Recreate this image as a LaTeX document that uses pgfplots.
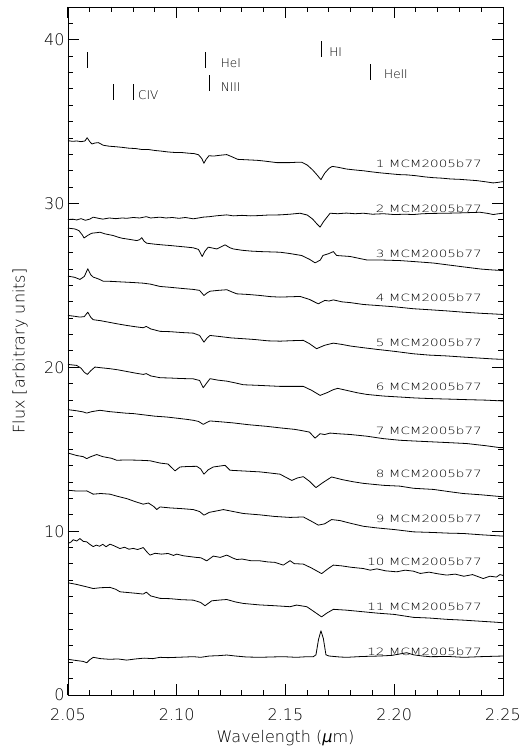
\documentclass[border=0pt]{standalone}
\usepackage{fontspec}
\setmainfont{DejaVu Sans}[UprightFont=* ExtraLight]
\newfontfamily\labfont{DejaVu Sans}[UprightFont=* ExtraLight, FakeStretch=1.35]
\usepackage{pgfplots}
\pgfplotsset{compat=1.18}
\newcommand{\lab}[1]{{\labfont\fontsize{10}{12}\selectfont #1}}
\newcommand{\lin}[1]{{\fontsize{12}{14}\selectfont #1}}
\pgfplotsset{
 full/.style={
  scale only axis,
  xmin=2.05, xmax=2.25, ymin=0, ymax=42,
  xtick={2.05,2.10,2.15,2.20,2.25},
  ytick={0,10,20,30,40},
  minor x tick num=4, minor y tick num=9,
  tick align=inside, tick pos=both,
  major tick length=11pt, minor tick length=5pt,
  /pgf/number format/assume math mode=true,
  x tick label style={/pgf/number format/.cd, fixed, fixed zerofill, precision=2, /tikz/.cd, font=\fontsize{16}{18}\selectfont, yshift=-10pt},
  y tick label style={font=\fontsize{16}{18}\selectfont},
  cycle list={{black, mark=none, solid}},
  no markers,
  every axis plot/.append style={black, line width=0.8pt, line join=round},
 },
 sty/.style={axis line style={line width=0.9pt, black}, tick style={line width=1pt, black}},
 lbl/.style={xlabel={Wavelength (\textit{μ}m)}, ylabel={Flux [arbitrary units]},
  xlabel style={at={(axis description cs:0.5,-0.0625)}, anchor=center, font=\fontsize{16}{18}\selectfont},
  ylabel style={at={(axis description cs:-0.1103,0.5)}, anchor=center, font=\fontsize{16}{18}\selectfont}},
 tk/.style={black, line width=1pt},
}
\begin{document}
\begin{tikzpicture}
\begin{axis}[at={(0,0)}, anchor=south west, width=435pt, height=688pt, full, sty, lbl]
% axis ticks (drawn as short segments)
\addplot[tk, quiver={u=0,v=0.67}] coordinates {(2.05,0) (2.10,0) (2.15,0) (2.20,0) (2.25,0)};
\addplot[tk, quiver={u=0,v=-0.67}] coordinates {(2.05,42) (2.10,42) (2.15,42) (2.20,42) (2.25,42)};
\addplot[tk, quiver={u=0,v=0.305}] coordinates {(2.06,0) (2.07,0) (2.08,0) (2.09,0) (2.11,0) (2.12,0) (2.13,0) (2.14,0) (2.16,0) (2.17,0) (2.18,0) (2.19,0) (2.21,0) (2.22,0) (2.23,0) (2.24,0)};
\addplot[tk, quiver={u=0,v=-0.305}] coordinates {(2.06,42) (2.07,42) (2.08,42) (2.09,42) (2.11,42) (2.12,42) (2.13,42) (2.14,42) (2.16,42) (2.17,42) (2.18,42) (2.19,42) (2.21,42) (2.22,42) (2.23,42) (2.24,42)};
\addplot[tk, quiver={u=0.00506,v=0}] coordinates {(2.05,0) (2.05,10) (2.05,20) (2.05,30) (2.05,40)};
\addplot[tk, quiver={u=-0.00506,v=0}] coordinates {(2.25,0) (2.25,10) (2.25,20) (2.25,30) (2.25,40)};
\addplot[tk, quiver={u=0.0023,v=0}] coordinates {(2.05,1) (2.05,2) (2.05,3) (2.05,4) (2.05,5) (2.05,6) (2.05,7) (2.05,8) (2.05,9) (2.05,11) (2.05,12) (2.05,13) (2.05,14) (2.05,15) (2.05,16) (2.05,17) (2.05,18) (2.05,19) (2.05,21) (2.05,22) (2.05,23) (2.05,24) (2.05,25) (2.05,26) (2.05,27) (2.05,28) (2.05,29) (2.05,31) (2.05,32) (2.05,33) (2.05,34) (2.05,35) (2.05,36) (2.05,37) (2.05,38) (2.05,39) (2.05,41)};
\addplot[tk, quiver={u=-0.0023,v=0}] coordinates {(2.25,1) (2.25,2) (2.25,3) (2.25,4) (2.25,5) (2.25,6) (2.25,7) (2.25,8) (2.25,9) (2.25,11) (2.25,12) (2.25,13) (2.25,14) (2.25,15) (2.25,16) (2.25,17) (2.25,18) (2.25,19) (2.25,21) (2.25,22) (2.25,23) (2.25,24) (2.25,25) (2.25,26) (2.25,27) (2.25,28) (2.25,29) (2.25,31) (2.25,32) (2.25,33) (2.25,34) (2.25,35) (2.25,36) (2.25,37) (2.25,38) (2.25,39) (2.25,41)};
% spectrum 1
\addplot coordinates {(2.0500,33.84) (2.0520,33.80) (2.0540,33.82) (2.0560,33.78) (2.0578,33.82) (2.0588,34.02) (2.0600,33.78) (2.0610,33.64) (2.0625,33.70) (2.0640,33.72) (2.0662,33.56) (2.0690,33.50) (2.0720,33.47) (2.0750,33.43) (2.0780,33.38) (2.0810,33.36) (2.0840,33.30) (2.0870,33.30) (2.0900,33.24) (2.0930,33.20) (2.0960,33.15) (2.0990,33.12) (2.1020,33.12) (2.1050,33.08) (2.1080,33.05) (2.1100,32.98) (2.1115,32.75) (2.1125,32.46) (2.1135,32.70) (2.1148,32.92) (2.1170,32.90) (2.1200,32.95) (2.1230,32.99) (2.1255,32.85) (2.1280,32.70) (2.1310,32.68) (2.1340,32.66) (2.1370,32.64) (2.1400,32.60) (2.1430,32.55) (2.1460,32.50) (2.1490,32.50) (2.1520,32.50) (2.1550,32.52) (2.1575,32.52) (2.1600,32.35) (2.1625,32.05) (2.1645,31.75) (2.1663,31.46) (2.1680,31.85) (2.1700,32.15) (2.1715,32.27) (2.1740,32.22) (2.1780,32.11) (2.1820,32.05) (2.1860,32.00) (2.1900,31.93) (2.1940,31.87) (2.1980,31.82) (2.2020,31.77) (2.2060,31.75) (2.2100,31.70) (2.2140,31.63) (2.2180,31.58) (2.2220,31.55) (2.2260,31.50) (2.2300,31.48) (2.2340,31.44) (2.2380,31.40) (2.2420,31.33) (2.2455,31.26) (2.2480,31.30) (2.2500,31.34)};
% spectrum 2
\addplot coordinates {(2.0500,29.02) (2.0520,29.05) (2.0540,29.00) (2.0560,29.08) (2.0580,28.98) (2.0600,29.05) (2.0616,29.17) (2.0640,29.10) (2.0660,29.05) (2.0690,29.12) (2.0720,29.08) (2.0750,29.12) (2.0770,29.10) (2.0800,29.15) (2.0830,29.12) (2.0860,29.20) (2.0880,29.12) (2.0923,29.17) (2.0950,29.12) (2.0980,29.15) (2.1010,29.10) (2.1040,29.15) (2.1076,29.07) (2.1100,29.12) (2.1121,29.17) (2.1150,29.20) (2.1180,29.25) (2.1230,29.31) (2.1260,29.25) (2.1300,29.28) (2.1340,29.25) (2.1383,29.27) (2.1420,29.30) (2.1475,29.31) (2.1520,29.35) (2.1567,29.41) (2.1600,29.30) (2.1625,29.05) (2.1645,28.75) (2.1659,28.56) (2.1675,28.90) (2.1705,29.41) (2.1740,29.38) (2.1780,29.42) (2.1820,29.38) (2.1858,29.41) (2.1900,29.35) (2.1950,29.38) (2.2000,29.33) (2.2050,29.35) (2.2088,29.33) (2.2130,29.38) (2.2180,29.40) (2.2241,29.41) (2.2300,29.43) (2.2350,29.45) (2.2394,29.47) (2.2430,29.40) (2.2455,29.33) (2.2480,29.38) (2.2500,29.41)};
% spectrum 3
\addplot coordinates {(2.0500,28.50) (2.0532,28.45) (2.0550,28.35) (2.0565,28.10) (2.0574,27.90) (2.0590,28.05) (2.0609,28.19) (2.0630,28.22) (2.0647,28.25) (2.0670,28.15) (2.0708,28.05) (2.0730,27.95) (2.0750,27.88) (2.0780,27.82) (2.0816,27.74) (2.0830,27.80) (2.0839,27.92) (2.0850,27.70) (2.0862,27.58) (2.0900,27.52) (2.0940,27.47) (2.0969,27.44) (2.1000,27.40) (2.1040,27.35) (2.1076,27.30) (2.1100,27.20) (2.1117,26.77) (2.1130,27.10) (2.1145,27.34) (2.1184,27.23) (2.1222,27.48) (2.1245,27.30) (2.1260,27.23) (2.1300,27.15) (2.1340,27.10) (2.1383,27.07) (2.1430,27.05) (2.1475,27.03) (2.1520,26.95) (2.1574,26.83) (2.1610,26.60) (2.1636,26.38) (2.1660,26.55) (2.1672,26.83) (2.1700,26.95) (2.1720,27.07) (2.1735,26.83) (2.1797,26.77) (2.1840,26.65) (2.1873,26.56) (2.1950,26.55) (2.2026,26.52) (2.2100,26.45) (2.2180,26.37) (2.2250,26.25) (2.2333,26.11) (2.2400,26.00) (2.2450,25.95) (2.2500,25.91)};
% spectrum 4
\addplot coordinates {(2.0500,25.57) (2.0530,25.50) (2.0555,25.37) (2.0575,25.55) (2.0591,26.02) (2.0605,25.65) (2.0616,25.51) (2.0640,25.40) (2.0662,25.26) (2.0700,25.25) (2.0740,25.22) (2.0770,25.20) (2.0800,25.18) (2.0846,25.14) (2.0880,25.08) (2.0923,24.94) (2.0960,24.90) (2.1000,24.85) (2.1040,24.80) (2.1076,24.76) (2.1105,24.70) (2.1125,24.39) (2.1140,24.55) (2.1153,24.65) (2.1190,24.70) (2.1230,24.74) (2.1255,24.60) (2.1276,24.49) (2.1330,24.45) (2.1383,24.39) (2.1430,24.32) (2.1475,24.29) (2.1520,24.31) (2.1567,24.33) (2.1610,24.15) (2.1640,23.95) (2.1651,23.88) (2.1665,23.98) (2.1681,24.09) (2.1700,24.05) (2.1720,24.12) (2.1760,24.00) (2.1800,23.95) (2.1858,23.84) (2.1920,23.78) (2.2000,23.70) (2.2088,23.58) (2.2160,23.52) (2.2240,23.45) (2.2317,23.37) (2.2400,23.30) (2.2460,23.26) (2.2500,23.23)};
% spectrum 5
\addplot coordinates {(2.0500,23.17) (2.0530,23.12) (2.0555,23.07) (2.0575,23.10) (2.0591,23.37) (2.0605,23.05) (2.0616,22.91) (2.0650,22.85) (2.0690,22.75) (2.0730,22.65) (2.0770,22.56) (2.0810,22.48) (2.0846,22.42) (2.0860,22.50) (2.0880,22.35) (2.0923,22.20) (2.0970,22.18) (2.1020,22.13) (2.1076,22.09) (2.1105,21.95) (2.1125,21.54) (2.1140,21.80) (2.1153,21.95) (2.1200,21.88) (2.1250,21.80) (2.1306,21.75) (2.1360,21.70) (2.1420,21.62) (2.1475,21.60) (2.1530,21.63) (2.1582,21.65) (2.1610,21.45) (2.1643,21.14) (2.1680,21.35) (2.1720,21.48) (2.1760,21.40) (2.1800,21.30) (2.1858,21.20) (2.1920,21.10) (2.2000,20.98) (2.2088,20.83) (2.2160,20.75) (2.2240,20.70) (2.2317,20.63) (2.2400,20.56) (2.2460,20.51) (2.2500,20.49)};
% spectrum 6
\addplot coordinates {(2.0500,20.18) (2.0520,20.15) (2.0540,20.12) (2.0560,19.95) (2.0575,19.70) (2.0589,19.57) (2.0605,19.80) (2.0624,20.02) (2.0650,19.98) (2.0693,19.92) (2.0730,19.85) (2.0770,19.75) (2.0810,19.65) (2.0846,19.57) (2.0860,19.62) (2.0880,19.48) (2.0923,19.37) (2.0970,19.35) (2.1020,19.32) (2.1076,19.30) (2.1105,19.20) (2.1122,18.76) (2.1138,19.05) (2.1153,19.31) (2.1190,19.22) (2.1230,19.16) (2.1270,19.05) (2.1306,18.94) (2.1380,18.90) (2.1475,18.84) (2.1582,18.84) (2.1620,18.60) (2.1659,18.29) (2.1690,18.45) (2.1720,18.64) (2.1740,18.72) (2.1780,18.60) (2.1830,18.45) (2.1873,18.35) (2.1950,18.25) (2.2026,18.19) (2.2100,18.13) (2.2180,18.09) (2.2260,18.06) (2.2333,18.03) (2.2420,18.00) (2.2500,17.95)};
% spectrum 7
\addplot coordinates {(2.0500,17.42) (2.0540,17.35) (2.0570,17.28) (2.0586,17.21) (2.0610,17.30) (2.0647,17.38) (2.0690,17.30) (2.0730,17.25) (2.0770,17.20) (2.0800,17.18) (2.0850,17.10) (2.0900,17.02) (2.0954,16.97) (2.1000,16.90) (2.1050,16.82) (2.1076,16.77) (2.1100,16.70) (2.1122,16.52) (2.1140,16.65) (2.1153,16.73) (2.1200,16.68) (2.1260,16.61) (2.1330,16.50) (2.1414,16.40) (2.1480,16.30) (2.1540,16.22) (2.1567,16.16) (2.1610,16.05) (2.1636,15.68) (2.1659,15.95) (2.1680,15.90) (2.1705,15.99) (2.1740,15.95) (2.1800,15.90) (2.1873,15.80) (2.1950,15.65) (2.2026,15.55) (2.2100,15.50) (2.2180,15.45) (2.2260,15.40) (2.2333,15.35) (2.2420,15.22) (2.2486,15.10) (2.2500,15.10)};
% spectrum 8
\addplot coordinates {(2.0500,14.77) (2.0540,14.62) (2.0570,14.55) (2.0586,14.43) (2.0605,14.55) (2.0632,14.68) (2.0660,14.55) (2.0700,14.45) (2.0724,14.33) (2.0770,14.35) (2.0830,14.33) (2.0877,14.30) (2.0923,14.16) (2.0960,14.10) (2.0992,13.68) (2.1015,13.92) (2.1050,13.95) (2.1092,13.96) (2.1110,13.80) (2.1125,13.48) (2.1145,13.75) (2.1168,13.92) (2.1200,13.98) (2.1222,14.02) (2.1245,13.72) (2.1300,13.68) (2.1383,13.62) (2.1430,13.55) (2.1475,13.48) (2.1500,13.30) (2.1529,13.10) (2.1555,13.25) (2.1582,13.33) (2.1610,13.05) (2.1640,12.66) (2.1670,12.95) (2.1712,13.31) (2.1760,13.15) (2.1810,13.02) (2.1858,12.92) (2.1950,12.80) (2.2026,12.75) (2.2088,12.62) (2.2180,12.55) (2.2260,12.40) (2.2317,12.30) (2.2400,12.22) (2.2500,12.10)};
% spectrum 9
\addplot coordinates {(2.0500,12.50) (2.0540,12.45) (2.0586,12.46) (2.0616,12.26) (2.0650,12.30) (2.0693,12.26) (2.0730,12.12) (2.0770,11.99) (2.0810,11.80) (2.0846,11.65) (2.0870,11.72) (2.0895,11.50) (2.0908,11.32) (2.0923,11.48) (2.0970,11.42) (2.1020,11.38) (2.1076,11.32) (2.1105,11.20) (2.1125,10.98) (2.1150,11.15) (2.1200,11.28) (2.1214,11.32) (2.1260,11.20) (2.1306,11.08) (2.1380,11.00) (2.1450,10.90) (2.1521,10.84) (2.1582,10.87) (2.1620,10.60) (2.1651,10.37) (2.1680,10.45) (2.1712,10.71) (2.1750,10.65) (2.1800,10.48) (2.1858,10.30) (2.1920,10.20) (2.2000,10.10) (2.2088,9.96) (2.2180,9.92) (2.2250,9.88) (2.2317,9.86) (2.2400,9.78) (2.2500,9.70)};
% spectrum 10
\addplot coordinates {(2.0500,9.25) (2.0515,9.35) (2.0524,9.48) (2.0540,9.40) (2.0555,9.55) (2.0570,9.38) (2.0586,9.35) (2.0600,9.20) (2.0616,9.06) (2.0630,9.15) (2.0645,9.08) (2.0660,9.20) (2.0675,9.05) (2.0693,9.21) (2.0710,9.12) (2.0739,8.94) (2.0760,9.02) (2.0780,8.90) (2.0800,8.95) (2.0820,8.88) (2.0846,9.00) (2.0865,8.70) (2.0877,8.54) (2.0900,8.65) (2.0930,8.60) (2.0960,8.64) (2.0985,8.52) (2.1000,8.60) (2.1030,8.50) (2.1060,8.45) (2.1090,8.40) (2.1110,8.38) (2.1138,8.19) (2.1168,8.48) (2.1200,8.40) (2.1230,8.54) (2.1260,8.35) (2.1276,8.27) (2.1300,8.30) (2.1340,8.20) (2.1383,8.19) (2.1420,8.12) (2.1450,8.10) (2.1490,7.93) (2.1521,8.20) (2.1540,8.02) (2.1582,7.99) (2.1620,7.75) (2.1666,7.41) (2.1700,7.75) (2.1720,7.93) (2.1760,7.88) (2.1800,7.80) (2.1858,7.72) (2.1890,7.62) (2.1920,7.70) (2.1960,7.58) (2.2011,7.52) (2.2050,7.62) (2.2088,7.56) (2.2120,7.42) (2.2160,7.50) (2.2200,7.40) (2.2241,7.32) (2.2280,7.38) (2.2320,7.25) (2.2360,7.35) (2.2409,7.11) (2.2440,7.25) (2.2470,7.20) (2.2486,7.35) (2.2500,7.30)};
% spectrum 11
\addplot coordinates {(2.0500,6.85) (2.0540,6.75) (2.0580,6.62) (2.0616,6.50) (2.0650,6.55) (2.0693,6.57) (2.0720,6.45) (2.0739,6.30) (2.0780,6.25) (2.0820,6.20) (2.0846,6.16) (2.0860,6.28) (2.0880,6.05) (2.0923,5.90) (2.0970,5.88) (2.1020,5.82) (2.1076,5.79) (2.1110,5.65) (2.1130,5.45) (2.1161,5.75) (2.1200,5.80) (2.1230,5.83) (2.1270,5.68) (2.1306,5.59) (2.1380,5.50) (2.1450,5.45) (2.1521,5.39) (2.1551,5.49) (2.1598,5.39) (2.1630,5.10) (2.1666,4.77) (2.1690,5.00) (2.1720,5.23) (2.1780,5.18) (2.1858,5.08) (2.1920,5.00) (2.2000,4.92) (2.2088,4.74) (2.2160,4.70) (2.2240,4.62) (2.2317,4.57) (2.2400,4.50) (2.2460,4.45) (2.2500,4.41)};
% spectrum 12
\addplot coordinates {(2.0500,2.18) (2.0530,2.12) (2.0570,2.05) (2.0586,1.97) (2.0600,2.15) (2.0616,2.30) (2.0650,2.22) (2.0690,2.18) (2.0730,2.20) (2.0770,2.13) (2.0810,2.20) (2.0850,2.25) (2.0890,2.22) (2.0923,2.30) (2.0960,2.28) (2.1000,2.30) (2.1040,2.32) (2.1076,2.34) (2.1110,2.30) (2.1150,2.38) (2.1190,2.40) (2.1230,2.44) (2.1270,2.38) (2.1320,2.32) (2.1383,2.30) (2.1430,2.32) (2.1490,2.34) (2.1550,2.30) (2.1600,2.34) (2.1628,2.34) (2.1640,2.45) (2.1652,3.40) (2.1663,3.92) (2.1674,3.45) (2.1686,2.45) (2.1700,2.38) (2.1750,2.32) (2.1781,2.30) (2.1850,2.35) (2.1934,2.38) (2.1990,2.42) (2.2057,2.58) (2.2090,2.45) (2.2130,2.38) (2.2164,2.34) (2.2250,2.35) (2.2320,2.30) (2.2394,2.34) (2.2450,2.36) (2.2500,2.38)};
% line markers
\addplot[line width=0.6pt] coordinates {(2.0590,38.29) (2.0590,39.27)};
\addplot[line width=0.6pt] coordinates {(2.0707,36.34) (2.0707,37.32)};
\addplot[line width=0.6pt] coordinates {(2.0799,36.34) (2.0799,37.32)};
\addplot[line width=0.6pt] coordinates {(2.1130,38.29) (2.1130,39.27)};
\addplot[line width=0.6pt] coordinates {(2.1150,36.89) (2.1150,37.87)};
\addplot[line width=0.6pt] coordinates {(2.1666,38.96) (2.1666,39.94)};
\addplot[line width=0.6pt] coordinates {(2.1890,37.56) (2.1890,38.54)};
\node[anchor=west, inner sep=0] at (axis cs:2.0822,36.65) {\lin{CIV}};
\node[anchor=west, inner sep=0] at (axis cs:2.1202,38.55) {\lin{HeI}};
\node[anchor=west, inner sep=0] at (axis cs:2.1202,37.13) {\lin{NIII}};
\node[anchor=west, inner sep=0] at (axis cs:2.1701,39.23) {\lin{HI}};
\node[anchor=west, inner sep=0] at (axis cs:2.1953,37.87) {\lin{HeII}};
% spectrum labels
\node[anchor=east, inner sep=0] at (axis cs:2.2403,32.44) {\lab{1 MCM2005b77}};
\node[anchor=east, inner sep=0] at (axis cs:2.2403,29.70) {\lab{2 MCM2005b77}};
\node[anchor=east, inner sep=0] at (axis cs:2.2403,26.95) {\lab{3 MCM2005b77}};
\node[anchor=east, inner sep=0] at (axis cs:2.2403,24.27) {\lab{4 MCM2005b77}};
\node[anchor=east, inner sep=0] at (axis cs:2.2403,21.52) {\lab{5 MCM2005b77}};
\node[anchor=east, inner sep=0] at (axis cs:2.2403,18.84) {\lab{6 MCM2005b77}};
\node[anchor=east, inner sep=0] at (axis cs:2.2403,16.16) {\lab{7 MCM2005b77}};
\node[anchor=east, inner sep=0] at (axis cs:2.2403,13.48) {\lab{8 MCM2005b77}};
\node[anchor=east, inner sep=0] at (axis cs:2.2403,10.73) {\lab{9 MCM2005b77}};
\node[anchor=east, inner sep=0] at (axis cs:2.2403,8.11) {\lab{10 MCM2005b77}};
\node[anchor=east, inner sep=0] at (axis cs:2.2403,5.37) {\lab{11 MCM2005b77}};
\node[anchor=east, inner sep=0] at (axis cs:2.2403,2.62) {\lab{12 MCM2005b77}};
\end{axis}
\path (-68pt,-58pt) rectangle (455pt,695pt);
\end{tikzpicture}
\end{document}
